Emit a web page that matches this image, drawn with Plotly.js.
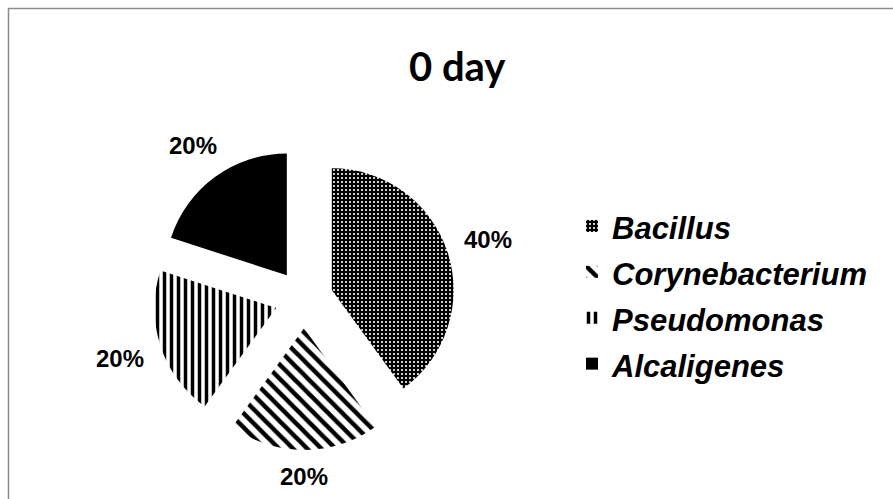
<!DOCTYPE html>
<html>
<head>
<meta charset="utf-8">
<script src="https://cdn.plot.ly/plotly-3.0.1.min.js"></script>
<style>html,body{margin:0;padding:0;background:#fff;}#chart{width:893px;height:499px;}</style>
</head>
<body>
<div id="chart"></div>
<script>
// Data
var categories = ["Bacillus", "Corynebacterium", "Pseudomonas", "Alcaligenes"];
var shares = [40, 20, 20, 20];
var chartTitle = "0 day";

// Styles per slice
var patternShapes = [".", "\\", "|", ""];
var patternBg = ["#000000", "#ffffff", "#ffffff", "#000000"];
var patternFg = ["#ffffff", "#000000", "#000000", "#000000"];
var patternSize = [4, 10, 7, 8];
var patternSolidity = [0.22, 0.45, 0.5, 0.3];

var W = 893, H = 499;
var cx = 304, cy = 299, half = 151, pullFrac = 0.24;
var labelGap = 168;           // distance from pie centre to nearest edge of each % label
var labelW = 48, labelH = 18; // approx label box size (px)

var slices = {
  type: "pie",
  labels: categories.map(function(c){ return '<span style="font-size:31px">' + c + '</span>'; }),
  values: shares,
  sort: false,
  direction: "clockwise",
  rotation: 0,
  pull: shares.map(function(){ return pullFrac; }),
  textinfo: "none",
  textposition: "none",
  marker: {
    colors: patternBg,
    line: {width: 0},
    pattern: {
      shape: patternShapes,
      bgcolor: patternBg,
      fgcolor: patternFg,
      fgopacity: 1,
      size: patternSize,
      solidity: patternSolidity,
      fillmode: "overlay"
    }
  },
  domain: {x: [(cx - half) / W, (cx + half) / W], y: [1 - (cy + half) / H, 1 - (cy - half) / H]},
  hoverinfo: "none"
};

// percentage labels placed outside each slice, along its bisector
var total = shares.reduce(function(a, b){ return a + b; }, 0);
var annotations = [];
var cum = 0;
shares.forEach(function(v){
  var mid = (cum + v / 2) / total * 2 * Math.PI; // clockwise from 12 o'clock
  cum += v;
  var ux = Math.sin(mid), uy = Math.cos(mid); // uy up-positive
  var ext = Math.abs(ux) * labelW / 2 + Math.abs(uy) * labelH / 2;
  var d = labelGap + ext;
  annotations.push({
    xref: "paper", yref: "paper",
    x: (cx + ux * d) / W, y: 1 - (cy - uy * d) / H,
    xanchor: "center", yanchor: "middle",
    text: "<b>" + Math.round(v / total * 100) + "%</b>",
    showarrow: false,
    font: {family: "Liberation Sans, Arial, sans-serif", size: 24, color: "#000"}
  });
});

var layout = {
  width: W, height: H,
  margin: {l: 0, r: 0, t: 0, b: 0},
  paper_bgcolor: "#fff",
  showlegend: true,
  title: {
    text: "<b>" + chartTitle + "</b>",
    x: 0.512, xanchor: "center",
    y: 1 - 67 / H, yanchor: "middle",
    font: {family: "Lato, 'Open Sans', sans-serif", size: 40, color: "#000"}
  },
  legend: {
    x: 572 / W, xanchor: "left",
    y: 1 - 295 / H, yanchor: "middle",
    font: {family: "Liberation Sans, Arial, sans-serif", size: 33, color: "#000", weight: "bold", style: "italic"},
    itemwidth: 30,
    bgcolor: "rgba(0,0,0,0)"
  },
  annotations: annotations,
  shapes: [{
    type: "rect", xref: "paper", yref: "paper",
    x0: 8.5 / W, x1: 1.02, y0: -0.02, y1: 1 - 8.5 / H,
    line: {color: "#8c8c8c", width: 1.5}, fillcolor: "rgba(0,0,0,0)"
  }]
};

Plotly.newPlot("chart", [slices], layout, {displayModeBar: false, staticPlot: true});
</script>
</body>
</html>
